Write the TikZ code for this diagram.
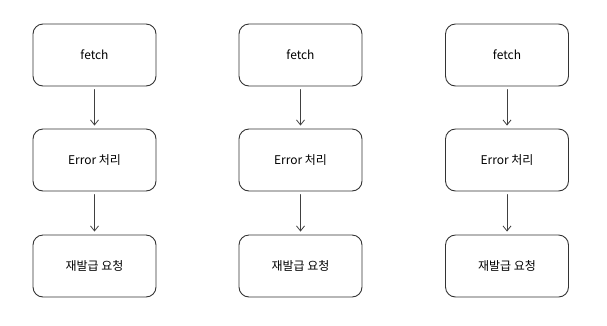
\documentclass[tikz,border=0pt]{standalone}
\usepackage{fontspec}
\setmainfont{Noto Sans CJK KR}
\usetikzlibrary{arrows.meta}

\begin{document}
\begin{tikzpicture}[
  x=1pt, y=-1pt,
  >={Straight Barb[length=5pt,width=8pt]},
  line cap=round,
  box/.style={draw=black!80, line width=0.9pt, rounded corners=10pt,
    minimum width=123pt, minimum height=62pt, inner sep=0pt,
    font=\fontsize{12}{14}\selectfont},
  flow/.style={->, line width=0.8pt, draw=black!75, shorten >=3pt, shorten <=3pt}
]
\useasboundingbox (0,0) rectangle (607,325);

%========== three identical columns ==========
\foreach \col/\cx in {a/94.5, b/300.5, c/507}{
  \node[box] (fetch-\col) at (\cx,55)  {fetch};
  \node[box] (err-\col)   at (\cx,160) {Error 처리};
  \node[box] (req-\col)   at (\cx,266) {재발급 요청};
  \draw[flow] (fetch-\col) -- (err-\col);
  \draw[flow] (err-\col) -- (req-\col);
}
\end{tikzpicture}
\end{document}
